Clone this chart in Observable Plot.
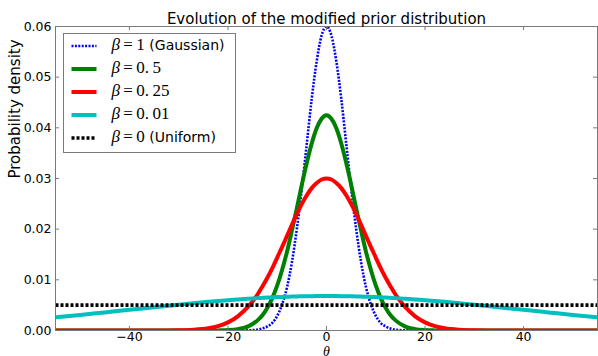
<!DOCTYPE html>
<html><head><meta charset="utf-8">
<script src="https://cdn.jsdelivr.net/npm/d3@7"></script>
<script src="https://cdn.jsdelivr.net/npm/@observablehq/plot@0.6"></script>
<style>
html,body{margin:0;padding:0;background:#fff;}
#chart{position:relative;width:598px;height:356px;overflow:hidden;}
</style></head><body><div id="chart"></div>
<script>
// ---- data ----
const theta = [-55,-50,-45,-40,-35,-30,-27,-24,-22,-20,-18,-16,-14,-13,-12,-11,-10,-9,-8,-7,-6,-5,-4,-3,-2,-1,0,1,2,3,4,5,6,7,8,9,10,11,12,13,14,16,18,20,22,24,27,30,35,40,45,50,55];
const densityBeta1 = [0,0,0,0,0,0,0,0,0,0,0,0.00003,0.00016,0.0004,0.0008,0.0015,0.0029,0.0052,0.0086,0.0136,0.0202,0.0281,0.0369,0.0457,0.0531,0.0582,0.0600,0.0582,0.0531,0.0457,0.0369,0.0281,0.0202,0.0136,0.0086,0.0052,0.0029,0.0015,0.0008,0.0004,0.00016,0.00003,0,0,0,0,0,0,0,0,0,0,0];
const densityBeta05 = [0,0,0,0,0,0,0,0,0.00002,0.00008,0.00027,0.00078,0.0020,0.0030,0.0045,0.0064,0.0089,0.0120,0.0156,0.0198,0.0242,0.0288,0.0331,0.0369,0.0399,0.0418,0.0425,0.0418,0.0399,0.0369,0.0331,0.0288,0.0242,0.0198,0.0156,0.0120,0.0089,0.0064,0.0045,0.0030,0.0020,0.00078,0.00027,0.00008,0.00002,0,0,0,0,0,0,0,0];
const densityBeta025 = [0,0,0,0,0,0.00004,0.00014,0.00043,0.00085,0.0016,0.0028,0.0046,0.0071,0.0087,0.0104,0.0123,0.0144,0.0165,0.0187,0.0209,0.0230,0.0250,0.0267,0.0281,0.0291,0.0298,0.0300,0.0298,0.0291,0.0281,0.0267,0.0250,0.0230,0.0209,0.0187,0.0165,0.0144,0.0123,0.0104,0.0087,0.0071,0.0046,0.0028,0.0016,0.00085,0.00043,0.00014,0.00004,0,0,0,0,0];
const densityBeta001 = [0.00259,0.00306,0.00357,0.00408,0.00460,0.00510,0.00539,0.00566,0.00583,0.00599,0.00613,0.00627,0.00639,0.00644,0.00649,0.00654,0.00659,0.00663,0.00666,0.00669,0.00672,0.00675,0.00677,0.00678,0.00679,0.00680,0.00680,0.00680,0.00679,0.00678,0.00677,0.00675,0.00672,0.00669,0.00666,0.00663,0.00659,0.00654,0.00649,0.00644,0.00639,0.00627,0.00613,0.00599,0.00583,0.00566,0.00539,0.00510,0.00460,0.00408,0.00357,0.00306,0.00259];
const uniformTheta = [-55, 55];
const densityUniform = [0.005, 0.005];
const xTicks = [-40, -20, 0, 20, 40];
const yTicks = [0, 0.01, 0.02, 0.03, 0.04, 0.05, 0.06];
const legendMath = ["\u2009=\u20091", "\u2009=\u20090.\u20095", "\u2009=\u20090.\u200925", "\u2009=\u20090.\u200901", "\u2009=\u20090"];
const legendText = [" (Gaussian)", "", "", "", " (Uniform)"];
const titleText = "Evolution of the modified prior distribution";
const yLabel = "Probability density";
const xLabel = "θ";

// ---- styles ----
const styles = [
  {color: "#0000ff", width: 2.6, dash: "2,1.4"},
  {color: "#008000", width: 4, dash: null},
  {color: "#ff0000", width: 4, dash: null},
  {color: "#00bfbf", width: 4, dash: null},
  {color: "#000000", width: 3.6, dash: "3,2"}
];
const curves = [
  [theta, densityBeta1],
  [theta, densityBeta05],
  [theta, densityBeta025],
  [theta, densityBeta001],
  [uniformTheta, densityUniform]
];

const lineMarks = curves.map(([xs, ys], k) =>
  Plot.line(xs.map((t, i) => ({theta: t, density: ys[i]})), {
    x: "theta", y: "density",
    stroke: styles[k].color,
    strokeWidth: styles[k].width,
    strokeDasharray: styles[k].dash ?? undefined,
    strokeLinecap: "butt",
    curve: "monotone-x",
    clip: true
  })
);

const W = 598, H = 356, mL = 55, mR = 1, mT = 26, mB = 26;
const innerW = W - mL - mR, innerH = H - mT - mB;
const spine = "#7a7a7a";

const chart = Plot.plot({
  width: W, height: H,
  marginLeft: mL, marginRight: mR, marginTop: mT, marginBottom: mB,
  style: {fontFamily: "DejaVu Sans", fontSize: "12.5px", color: "#000", background: "#fff", overflow: "hidden"},
  x: {domain: [-55, 55]},
  y: {domain: [0, 0.06]},
  marks: [
    ...lineMarks,
    Plot.frame({stroke: spine, strokeWidth: 1}),
    Plot.tickX(xTicks, {x: d => d, stroke: spine, insetTop: innerH - 4}),
    Plot.tickX(xTicks, {x: d => d, stroke: spine, insetBottom: innerH - 4}),
    Plot.tickY(yTicks, {y: d => d, stroke: spine, insetRight: innerW - 4}),
    Plot.tickY(yTicks, {y: d => d, stroke: spine, insetLeft: innerW - 4}),
    Plot.axisX({ticks: xTicks, tickSize: 0, tickPadding: 2, label: null, fontSize: 12.5}),
    Plot.axisY({ticks: yTicks, tickSize: 0, tickPadding: 4, label: null, tickFormat: d3.format(".2f"), fontSize: 12.5}),
    Plot.text([titleText], {frameAnchor: "top", dy: -3, lineAnchor: "bottom", fontSize: 15}),
    Plot.text([yLabel], {frameAnchor: "left", dx: -40, rotate: -90, fontSize: 15}),
    Plot.text([xLabel], {frameAnchor: "bottom", dy: 25.5, lineAnchor: "bottom", fontSize: 14, fontStyle: "italic", fontFamily: "Liberation Serif"})
  ]
});
document.getElementById("chart").append(chart);

// ---- legend (upper left, inside the axes) ----
const svg = d3.select(chart);
const lg = svg.append("g").attr("text-anchor", "start");
const lx = 63.5, ly = 33.5, lw = 172, lh = 119;
lg.append("rect").attr("x", lx).attr("y", ly).attr("width", lw).attr("height", lh)
  .attr("fill", "#fff").attr("stroke", spine).attr("stroke-width", 1);
styles.forEach((s, k) => {
  const yy = ly + 12.5 + k * 23;
  lg.append("line").attr("x1", lx + 8).attr("x2", lx + 33).attr("y1", yy).attr("y2", yy)
    .attr("stroke", s.color).attr("stroke-width", s.width)
    .attr("stroke-dasharray", s.dash);
  const t = lg.append("text").attr("x", lx + 48).attr("y", yy).attr("dy", "0.35em")
    .attr("fill", "#000").attr("text-anchor", "start");
  t.append("tspan").attr("font-family", "Liberation Serif").attr("font-style", "italic").attr("font-size", 17).text("β");
  t.append("tspan").attr("font-family", "Liberation Serif").attr("font-size", 17).text(legendMath[k]);
  if (legendText[k]) t.append("tspan").attr("font-family", "DejaVu Sans").attr("font-size", 14).text(legendText[k]);
});
</script></body></html>
